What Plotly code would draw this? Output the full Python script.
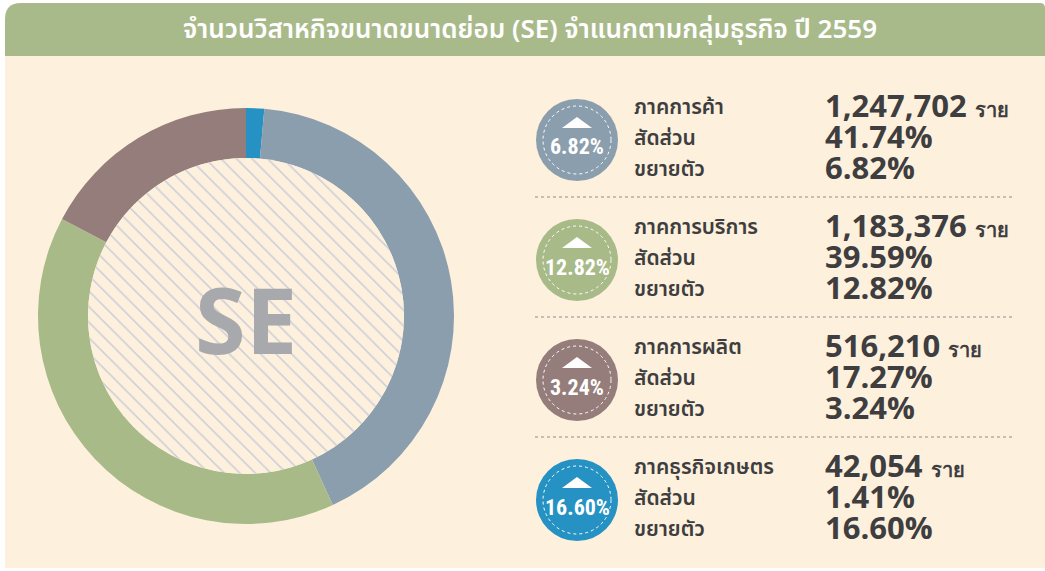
import plotly.graph_objects as go

W, H = 1045, 571

# ---- data ----
title_text = "จำนวนวิสาหกิจขนาดขนาดย่อม (SE) จำแนกตามกลุ่มธุรกิจ ปี 2559"
sectors = ["ภาคการค้า", "ภาคการบริการ", "ภาคการผลิต", "ภาคธุรกิจเกษตร"]
counts = [1247702, 1183376, 516210, 42054]
shares = [41.74, 39.59, 17.27, 1.41]
growth = [6.82, 12.82, 3.24, 16.60]
colors = ["#8b9eae", "#a8ba88", "#957d7b", "#2592c3"]
share_label = "สัดส่วน"
growth_label = "ขยายตัว"
unit_label = "ราย"
center_label = "SE"

CREAM = "#fdf0dc"
BANNER = "#a9ba8a"
DARK = "#3e3e40"
THAI = "Noto Sans Thai, Noto Sans Thai Looped, Tlwg Typo, Loma, Noto Sans, sans-serif"
NUM = "Open Sans, Noto Sans, sans-serif"
COND = "Liberation Sans Narrow, Roboto Condensed, Arial Narrow, Roboto, sans-serif"


def px(x):
    return x / W


def py(y):
    return 1 - y / H


fig = go.Figure()

# donut: start with agriculture at 12 o'clock, clockwise
order = [3, 0, 1, 2]
cx, cy, R, r_in = 246, 316, 208, 158
fig.add_trace(go.Pie(
    labels=[sectors[i] for i in order],
    values=[counts[i] for i in order],
    marker=dict(colors=[colors[i] for i in order], line=dict(width=0)),
    hole=r_in / R, sort=False, direction="clockwise", rotation=0,
    textinfo="none", hoverinfo="label+value+percent", showlegend=False,
    domain=dict(x=[px(cx - R), px(cx + R)], y=[py(cy + R), py(cy - R)]),
))
# hatched inner disc
fig.add_trace(go.Pie(
    labels=[center_label], values=[1],
    marker=dict(colors=[CREAM], line=dict(width=0),
                pattern=dict(shape="\\", fgcolor="#c8cbd9", bgcolor=CREAM,
                             size=11, solidity=0.13, fillmode="replace")),
    sort=False, textinfo="none", hoverinfo="skip", showlegend=False,
    domain=dict(x=[px(cx - r_in), px(cx + r_in)], y=[py(cy + r_in), py(cy - r_in)]),
))

shapes = []
annotations = []

# background + banner
shapes.append(dict(type="rect", xref="paper", yref="paper", layer="below",
                   x0=px(5), x1=px(1045), y0=py(568), y1=py(56),
                   fillcolor=CREAM, line=dict(width=0)))
rr = 16
path = (f"M {px(5)},{py(56)} L {px(5)},{py(3 + rr)} "
        f"Q {px(5)},{py(3)} {px(5 + rr)},{py(3)} "
        f"L {px(1040)},{py(3)} Q {px(1045)},{py(3)} {px(1045)},{py(8)} "
        f"L {px(1045)},{py(56)} Z")
shapes.append(dict(type="path", xref="paper", yref="paper", layer="below",
                   path=path, fillcolor=BANNER, line=dict(width=0)))

annotations.append(dict(text=title_text, x=px(530), y=py(30), xref="paper", yref="paper",
                        showarrow=False, xanchor="center", yanchor="middle",
                        font=dict(family=THAI, size=26, color="white", weight=600)))

annotations.append(dict(text=center_label, x=px(cx), y=py(cy + 2), xref="paper", yref="paper",
                        showarrow=False, xanchor="center", yanchor="middle",
                        font=dict(family=NUM, size=92, color="#a7a9ac", weight=700)))

# right panel
ccx, cr = 577, 41
ROW = 31
for i in range(4):
    top = 107 + 120 * i
    ccy = top + 33
    shapes.append(dict(type="circle", xref="paper", yref="paper",
                       x0=px(ccx - cr), x1=px(ccx + cr), y0=py(ccy + cr), y1=py(ccy - cr),
                       fillcolor=colors[i], line=dict(width=0)))
    dr = 34
    shapes.append(dict(type="circle", xref="paper", yref="paper",
                       x0=px(ccx - dr), x1=px(ccx + dr), y0=py(ccy + dr), y1=py(ccy - dr),
                       fillcolor="rgba(0,0,0,0)", line=dict(width=1, color="white", dash="dot")))
    tri = (f"M {px(ccx - 15)},{py(ccy - 12)} L {px(ccx + 15)},{py(ccy - 12)} "
           f"L {px(ccx)},{py(ccy - 23)} Z")
    shapes.append(dict(type="path", xref="paper", yref="paper", path=tri,
                       fillcolor="white", line=dict(width=0)))
    annotations.append(dict(text=f"{growth[i]:.2f}%", x=px(ccx), y=py(ccy + 7),
                            xref="paper", yref="paper", showarrow=False,
                            xanchor="center", yanchor="middle",
                            font=dict(family=COND, size=22, color="white", weight=700)))

    # labels block: base font sets line spacing (1.3 x 24 = 31 px)
    rows = [sectors[i], share_label, growth_label]
    label_txt = "<br>".join(f"<span style='font-size:21px'>{t}</span>" for t in rows)
    annotations.append(dict(text=label_txt, x=px(632), y=py(top + ROW), xref="paper", yref="paper",
                            showarrow=False, xanchor="left", yanchor="middle", align="left",
                            font=dict(family=THAI, size=24, color=DARK, weight=600)))
    vals = [f"{counts[i]:,} <span style='font-size:20px'>{unit_label}</span>",
            f"{shares[i]:.2f}%", f"{growth[i]:.2f}%"]
    val_txt = "<br>".join(f"<b><span style='font-size:31px'>{v}</span></b>" for v in vals)
    annotations.append(dict(text=val_txt, x=px(823), y=py(top + ROW - 2), xref="paper", yref="paper",
                            showarrow=False, xanchor="left", yanchor="middle", align="left",
                            font=dict(family=NUM, size=24, color=DARK)))
    if i < 3:
        ly = top + 90
        shapes.append(dict(type="line", xref="paper", yref="paper",
                           x0=px(535), x1=px(1012), y0=py(ly), y1=py(ly),
                           line=dict(color="#8d8d8d", width=1, dash="dot")))

fig.update_layout(
    width=W, height=H, margin=dict(l=0, r=0, t=0, b=0),
    paper_bgcolor="white", plot_bgcolor="white",
    shapes=shapes, annotations=annotations, showlegend=False,
)

fig.write_html("out.html", config={"displayModeBar": False},
               post_script="document.body.style.margin='0';")
